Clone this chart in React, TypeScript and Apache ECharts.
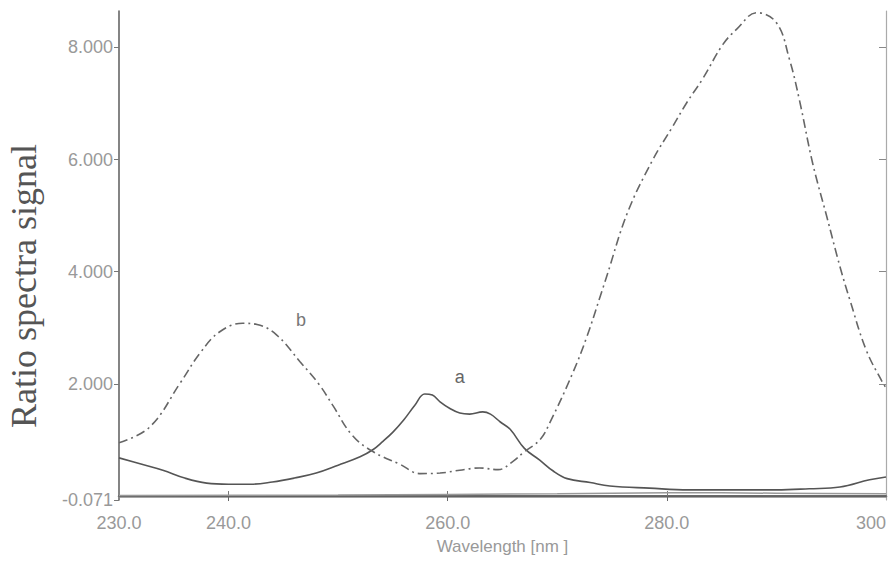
import React, { useEffect, useRef } from "react";
import * as echarts from "echarts";

// Curve a (solid)
const waveA = [230, 232, 234, 236, 238, 240, 242, 244, 246, 248, 250, 252, 253.2, 254, 255, 256, 257, 257.9, 258.6, 259.3, 260.2, 261.1, 262.0, 263.2, 263.9, 264.8, 265.7, 267.0, 268.4, 269.6, 270.9, 273.0, 274.8, 278.4, 282, 286, 290, 293, 295.8, 298.5, 300];
const sigA = [0.68, 0.57, 0.46, 0.32, 0.23, 0.21, 0.21, 0.25, 0.32, 0.41, 0.55, 0.7, 0.83, 0.96, 1.14, 1.36, 1.62, 1.82, 1.8, 1.68, 1.56, 1.48, 1.46, 1.5, 1.46, 1.32, 1.19, 0.85, 0.64, 0.45, 0.31, 0.24, 0.18, 0.14, 0.11, 0.11, 0.11, 0.13, 0.16, 0.29, 0.34];

// Curve b (dash-dot)
const waveB = [230, 232.8, 235.6, 237.4, 239.2, 241.3, 242.6, 244.4, 246.5, 248.3, 249.5, 251.3, 253.2, 255.6, 257.5, 259.3, 261.1, 262.9, 264.6, 265.9, 267.0, 268.4, 269.3, 271.4, 272.7, 273.9, 274.5, 276.4, 278.7, 280.5, 281.8, 283.3, 285.1, 286.4, 288.2, 290.0, 291.2, 292.1, 293.3, 294.6, 295.8, 296.7, 298.2, 299.7, 300];
const sigB = [0.95, 1.23, 2.02, 2.55, 2.93, 3.08, 3.06, 2.87, 2.4, 1.98, 1.62, 1.08, 0.79, 0.57, 0.4, 0.41, 0.46, 0.5, 0.47, 0.61, 0.79, 1.0, 1.3, 2.19, 2.84, 3.55, 3.91, 5.05, 5.99, 6.58, 7.01, 7.45, 8.05, 8.33, 8.62, 8.44, 7.78, 7.06, 5.94, 4.98, 4.09, 3.5, 2.6, 2.02, 1.93];

// Baseline trace near zero
const waveBase = [230, 250, 270, 280, 290, 300];
const sigBase = [0.01, 0.02, 0.04, 0.06, 0.05, 0.04];

const xTicks = [230, 240, 260, 280, 300];
const xTickLabels = ["230.0", "240.0", "260.0", "280.0", "300"];
const yTicks = [-0.071, 2, 4, 6, 8];
const yTickLabels = ["-0.071", "2.000", "4.000", "6.000", "8.000"];
const innerXTicks = [240, 260, 280];
const innerYTicks = [2, 4, 6, 8];

const labelA = { text: "a", wave: 261.1, value: 2.12 };
const labelB = { text: "b", wave: 246.6, value: 3.14 };

const pairs = (xs: number[], ys: number[]) => xs.map((x, i) => [x, ys[i]]);

export default function App() {
  const ref = useRef<HTMLDivElement>(null);
  useEffect(() => {
    if (!ref.current) return;
    const chart = echarts.init(ref.current, null, { renderer: "svg" });
    const labelFont = {
      color: "#999",
      fontSize: 18,
      fontFamily: "'Liberation Sans', Arial, sans-serif",
    };
    chart.setOption({
      animation: false,
      backgroundColor: "#fff",
      grid: { left: 119, right: 8, top: 11, bottom: 61, containLabel: false, outerBoundsMode: "none" },
      xAxis: [
        {
          type: "value",
          min: 230,
          max: 300,
          position: "bottom",
          axisLine: { show: true, lineStyle: { color: "#888", width: 2.5 } },
          axisTick: { show: true, inside: true, length: 5, customValues: innerXTicks, lineStyle: { color: "#777" } },
          axisLabel: {
            show: true,
            customValues: xTicks,
            margin: 14,
            hideOverlap: false,
            alignMaxLabel: "right",
            formatter: (v: number) => xTickLabels[xTicks.indexOf(v)] ?? String(v),
            ...labelFont,
          },
          splitLine: { show: false },
          name: "Wavelength [nm ]",
          nameLocation: "middle",
          nameGap: 38,
          nameTextStyle: { ...labelFont, fontSize: 17 },
        },
        {
          type: "value",
          min: 230,
          max: 300,
          position: "top",
          axisLine: { show: true, lineStyle: { color: "#555", width: 1.6 } },
          axisTick: { show: true, inside: true, length: 5, customValues: innerXTicks, lineStyle: { color: "#666" } },
          axisLabel: { show: false },
          splitLine: { show: false },
        },
      ],
      yAxis: [
        {
          type: "value",
          min: -0.071,
          max: 8.65,
          position: "left",
          axisLine: { show: true, lineStyle: { color: "#666", width: 1.6 } },
          axisTick: { show: true, inside: false, length: 5, customValues: yTicks, lineStyle: { color: "#777" } },
          axisLabel: {
            show: true,
            customValues: yTicks,
            margin: 6,
            formatter: (v: number) => {
              const i = yTicks.findIndex((t) => Math.abs(t - v) < 1e-6);
              return i >= 0 ? yTickLabels[i] : String(v);
            },
            ...labelFont,
          },
          splitLine: { show: false },
        },
        {
          type: "value",
          min: -0.071,
          max: 8.65,
          position: "right",
          axisLine: { show: true, lineStyle: { color: "#aaa", width: 1.2 } },
          axisTick: { show: true, inside: true, length: 7, customValues: innerYTicks, lineStyle: { color: "#888" } },
          axisLabel: { show: false },
          splitLine: { show: false },
        },
      ],
      series: [
        {
          name: "base",
          type: "line",
          data: pairs(waveBase, sigBase),
          showSymbol: false,
          smooth: 0.3,
          lineStyle: { color: "#999", width: 1.5 },
        },
        {
          name: "a",
          type: "line",
          data: pairs(waveA, sigA),
          showSymbol: false,
          smooth: 0.4,
          lineStyle: { color: "#555", width: 1.6 },
          markPoint: {
            symbol: "circle",
            symbolSize: 0,
            data: [
              {
                coord: [labelA.wave, labelA.value],
                label: {
                  show: true,
                  formatter: labelA.text,
                  color: "#666",
                  fontSize: 18,
                  fontFamily: "'Liberation Sans', Arial, sans-serif",
                  position: "inside",
                },
              },
            ],
          },
        },
        {
          name: "b",
          type: "line",
          data: pairs(waveB, sigB),
          showSymbol: false,
          smooth: 0.4,
          lineStyle: { color: "#666", width: 1.6, type: [9, 4, 2, 4] },
          markPoint: {
            symbol: "circle",
            symbolSize: 0,
            data: [
              {
                coord: [labelB.wave, labelB.value],
                label: {
                  show: true,
                  formatter: labelB.text,
                  color: "#777",
                  fontSize: 18,
                  fontFamily: "'Liberation Sans', Arial, sans-serif",
                  position: "inside",
                },
              },
            ],
          },
        },
      ],
      graphic: [
        {
          type: "text",
          x: 24,
          y: 286,
          rotation: Math.PI / 2,
          style: {
            text: "Ratio spectra signal",
            font: "36px 'Liberation Serif', 'Times New Roman', serif",
            fill: "#555",
            textAlign: "center",
            textVerticalAlign: "middle",
          },
        },
      ],
    });
    return () => chart.dispose();
  }, []);
  return (
    <div
      ref={ref}
      style={{ position: "absolute", left: 0, top: 0, width: 894, height: 561 }}
    />
  );
}
